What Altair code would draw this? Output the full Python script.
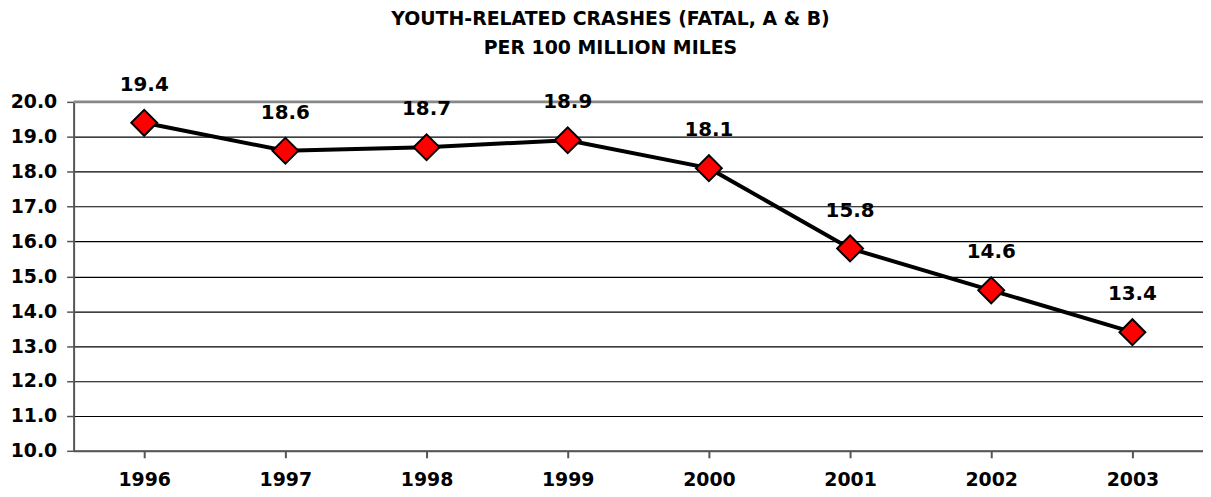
import altair as alt
import pandas as pd

years = ["1996", "1997", "1998", "1999", "2000", "2001", "2002", "2003"]
values = [19.4, 18.6, 18.7, 18.9, 18.1, 15.8, 14.6, 13.4]
labels = ["19.4", "18.6", "18.7", "18.9", "18.1", "15.8", "14.6", "13.4"]
y_top = [20]

df = pd.DataFrame({"year": years, "value": values, "label": labels})
df_top = pd.DataFrame({"value": y_top})

FONT = "DejaVu Sans"
yscale = alt.Scale(domain=[10, 20], nice=False, zero=False)

x = alt.X("year:N", sort=years, title=None,
          scale=alt.Scale(paddingInner=0, paddingOuter=0),
          axis=alt.Axis(labelAngle=0, labelFont=FONT, labelFontSize=19, labelFontWeight="bold",
                        labelColor="black", labelPadding=13, bandPosition=0,
                        tickColor="#555555", tickSize=7, tickWidth=2,
                        domainColor="#555555", domainWidth=2, grid=False))
yaxis = alt.Axis(values=[10, 11, 12, 13, 14, 15, 16, 17, 18, 19, 20], format=".1f",
                 labelOverlap=False,
                 labelFont=FONT, labelFontSize=19, labelFontWeight="bold",
                 labelColor="black", labelPadding=10,
                 tickColor="#555555", tickSize=7, tickWidth=1.5,
                 domainColor="#555555", domainWidth=2,
                 grid=True, gridColor="black", gridWidth=1.2)
y = alt.Y("value:Q", title=None, scale=yscale, axis=yaxis)

base = alt.Chart(df)

line = base.mark_line(color="black", strokeWidth=4).encode(x=x, y=y)
top = alt.Chart(df_top).mark_rule(color="#888888", strokeWidth=3).encode(y=y)
pts = base.mark_point(shape="diamond", size=676, filled=True, fill="#FF0000",
                      stroke="black", strokeWidth=2, opacity=1).encode(x=x, y=y)
txt = base.mark_text(dy=-38, font=FONT, fontSize=20, fontWeight="bold", color="black").encode(
    x=x, y=y, text="label:N")

chart = alt.layer(line, top, pts, txt).properties(
    width=1136, height=351,
    title=alt.TitleParams(text=["YOUTH-RELATED CRASHES (FATAL, A  & B)", "PER 100 MILLION MILES"],
                          font=FONT, fontSize=19, fontWeight="bold", color="black",
                          anchor="middle", dx=-28, offset=17, lineHeight=29),
    autosize=alt.AutoSizeParams(type="none"),
    padding={"left": 66, "top": 93, "right": 0, "bottom": 40},
).configure_view(stroke=None).configure(background="white")

chart.save("out.html", embed_options={"renderer": "svg", "actions": False})
